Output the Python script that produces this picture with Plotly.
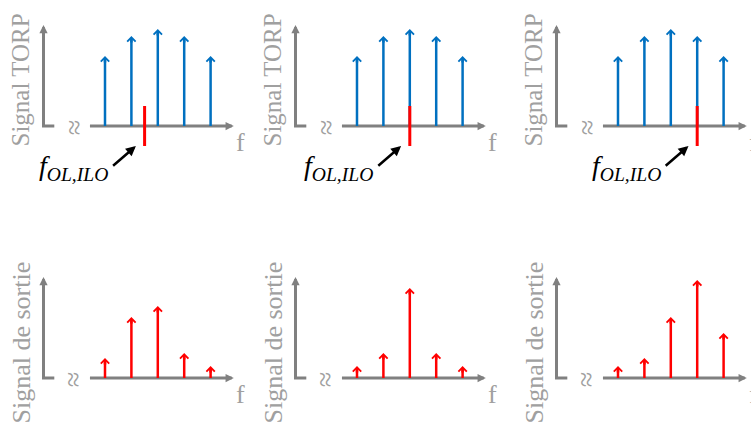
import plotly.graph_objects as go

# ---------------- data ----------------
freqs = [1, 2, 3, 4, 5]
torp_amp = [0.70, 0.90, 0.97, 0.90, 0.70]
lo_freq = [2.5, 3.0, 4.0]
out_amp_1 = [0.20, 0.61, 0.72, 0.25, 0.12]
out_amp_2 = [0.12, 0.25, 0.90, 0.25, 0.12]
out_amp_3 = [0.12, 0.20, 0.61, 0.98, 0.45]
out_amps = [out_amp_1, out_amp_2, out_amp_3]
ylabel_top = "Signal TORP"
ylabel_bottom = "Signal de sortie"
xlabel = "f"
lo_label = "<i>f</i><sub><i>OL,ILO</i></sub>"

# ---------------- style / layout ----------------
W, H = 751, 434
UNIT = 26.4          # px per frequency unit
XR = [-2.0, 6.0]
F1_PX = [105, 357, 618]
ROWS = [dict(base=126, yr=[-0.75, 1.1]), dict(base=378, yr=[-0.4, 1.1])]
GRAY = "#808080"
LGRAY = "#a0a0a0"
BLUE = "#0070C0"
RED = "#FF0000"
FONT = "Liberation Serif"
YAX = -1.33
STUB = -0.92
XAX0, XAX1 = 0.43, 5.88
LO_HALF = 0.2

fig = go.Figure()
annotations = []
layout = dict(width=W, height=H, margin=dict(l=0, r=0, t=0, b=0),
              paper_bgcolor="white", plot_bgcolor="white", showlegend=False)


def px2paper(px, py):
    return px / W, 1 - py / H


for r, row in enumerate(ROWS):
    for c in range(3):
        k = r * 3 + c + 1
        sfx = "" if k == 1 else str(k)
        xa, ya = "x" + sfx, "y" + sfx
        left = F1_PX[c] - (1 - XR[0]) * UNIT
        right = left + (XR[1] - XR[0]) * UNIT
        top_px = row["base"] - row["yr"][1] * 100
        bot_px = row["base"] - row["yr"][0] * 100
        layout["xaxis" + sfx] = dict(domain=[left / W, min(right / W, 1.0)], range=XR,
                                     visible=False, fixedrange=True, anchor=ya)
        layout["yaxis" + sfx] = dict(domain=[1 - bot_px / H, 1 - top_px / H], range=row["yr"],
                                     visible=False, fixedrange=True, anchor=xa)

        # axes (gray)
        fig.add_trace(go.Scatter(x=[YAX, YAX, STUB, None, XAX0, XAX1 - 0.2],
                                 y=[0.97, 0, 0, None, 0, 0], mode="lines",
                                 line=dict(color=GRAY, width=3), xaxis=xa, yaxis=ya,
                                 hoverinfo="skip"))
        for (hx, hy, tx, ty) in [(YAX, 1.01, YAX, 0.9), (XAX1, 0, XAX1 - 0.3, 0)]:
            annotations.append(dict(x=hx, y=hy, ax=tx, ay=ty, xref=xa, yref=ya,
                                    axref=xa, ayref=ya, text="", showarrow=True,
                                    arrowhead=2, arrowsize=0.55, arrowwidth=3,
                                    arrowcolor=GRAY, font=dict(size=1)))

        # spectral lines
        amps = torp_amp if r == 0 else out_amps[c]
        col = BLUE if r == 0 else RED
        sx, sy = [], []
        for f, a in zip(freqs, amps):
            sx += [f, f, None]
            sy += [0, a - 0.03, None]
            annotations.append(dict(x=f, y=a, ax=f, ay=a - 0.08, xref=xa, yref=ya,
                                    axref=xa, ayref=ya, text="", showarrow=True,
                                    arrowhead=4, arrowsize=0.65, arrowwidth=2.5,
                                    arrowcolor=col, font=dict(size=1)))
        fig.add_trace(go.Scatter(x=sx, y=sy, mode="lines", line=dict(color=col, width=2.5),
                                 xaxis=xa, yaxis=ya, hoverinfo="skip"))

        # LO marker
        if r == 0:
            lo = lo_freq[c]
            fig.add_trace(go.Scatter(x=[lo, lo], y=[-LO_HALF, LO_HALF], mode="lines",
                                     line=dict(color=RED, width=3), xaxis=xa, yaxis=ya,
                                     hoverinfo="skip"))
            annotations.append(dict(x=lo - 1.3, y=-0.42, xref=xa, yref=ya, text=lo_label,
                                    showarrow=False, xanchor="right", yanchor="middle",
                                    font=dict(family=FONT, size=28, color="black")))
            annotations.append(dict(x=lo - 0.33, y=-0.2, ax=lo - 1.25, ay=-0.41,
                                    xref=xa, yref=ya, axref=xa, ayref=ya, text="",
                                    showarrow=True, arrowhead=2, arrowsize=0.8,
                                    arrowwidth=2.5, arrowcolor="black", font=dict(size=1)))

        # break symbol
        annotations.append(dict(x=-0.17, y=-0.01, xref=xa, yref=ya, text="≈", showarrow=False,
                                textangle=90, font=dict(family=FONT, size=28, color=LGRAY)))

        # f label
        fx, fy = px2paper(F1_PX[c] + 135, row["base"] + 16)
        annotations.append(dict(x=fx, y=fy, xref="paper", yref="paper", text=xlabel,
                                showarrow=False, xanchor="center", yanchor="middle",
                                font=dict(family=FONT, size=26, color=LGRAY)))

        # y label
        yl_x = F1_PX[c] + (YAX - 1) * UNIT - 22
        yl_y = 80 if r == 0 else 342
        lx, ly = px2paper(yl_x, yl_y)
        annotations.append(dict(x=lx, y=ly, xref="paper", yref="paper",
                                text=ylabel_top if r == 0 else ylabel_bottom,
                                showarrow=False, textangle=-90, xanchor="center",
                                yanchor="middle",
                                font=dict(family=FONT, size=25 if r == 0 else 26, color=LGRAY)))

layout["annotations"] = annotations
fig.update_layout(**layout)
fig.write_html("out.html", config={"displayModeBar": False, "staticPlot": True},
               post_script="document.body.style.margin='0px';")
